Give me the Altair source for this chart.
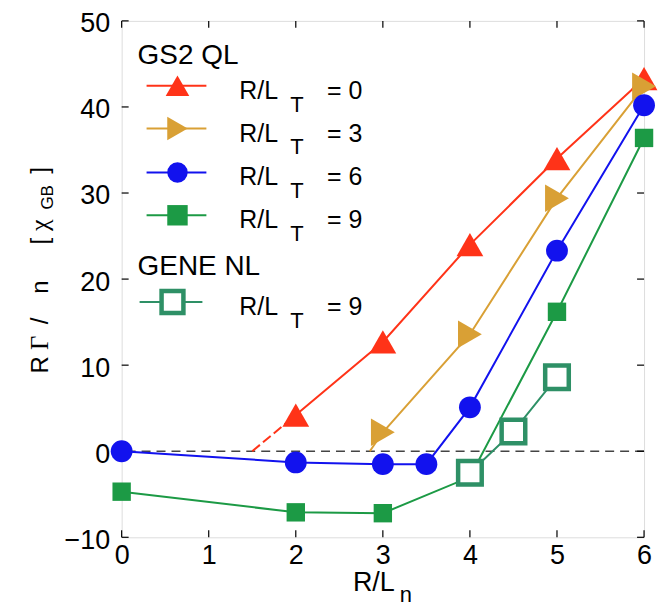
import altair as alt
import pandas as pd

# ---------------- data ----------------
x_ticks = [0, 1, 2, 3, 4, 5, 6]
y_ticks = [-10, 0, 10, 20, 30, 40, 50]

rl0_x = [2, 3, 4, 5, 6]
rl0_y = [4.2, 12.7, 24.0, 34.0, 43.3]
rl0_ext_x = [1.5, 2]
rl0_ext_y = [0.0, 4.2]

rl3_x = [3, 4, 5, 6]
rl3_y = [2.2, 13.6, 29.4, 42.4]
rl3_ext_x = [2.85, 3]
rl3_ext_y = [0.0, 2.2]

rl6_x = [0, 2, 3, 3.5, 4, 5, 6]
rl6_y = [0.0, -1.3, -1.5, -1.5, 5.1, 23.3, 40.2]

rl9_x = [0, 2, 3, 4, 5, 6]
rl9_y = [-4.7, -7.1, -7.2, -3.0, 16.2, 36.4]
rl9_marker = [True, True, True, False, True, True]

gene_x = [4, 4.5, 5]
gene_y = [-2.5, 2.3, 8.6]

legend_labels = ["= 0", "= 3", "= 6", "= 9"]
gene_label = "= 9"

# ---------------- styles ----------------
RED = "#FF3318"
GOLD = "#D9A035"
BLUE = "#1212EE"
GREEN = "#1C9A45"
TEAL = "#2E9066"
FONT = "Liberation Sans"
W, H = 524, 518

xs = alt.Scale(domain=[0, 6], nice=False, zero=False)
ys = alt.Scale(domain=[-10, 50], nice=False, zero=False)
ax_x = alt.Axis(values=x_ticks, title=None, format="d", labelFontSize=27,
                labelPadding=5, labelFlush=False, labelOverlap=False,
                ticks=False, tickSize=0, domain=False, grid=False,
                labelFont=FONT, labelColor="black")
ax_y = alt.Axis(values=y_ticks, title=None, format="d", labelFontSize=27,
                labelPadding=12, labelFlush=False, labelOverlap=False,
                labelOffset=3,
                ticks=False, tickSize=0, domain=False, grid=False,
                labelFont=FONT, labelColor="black")
X = alt.X("x:Q", scale=xs, axis=ax_x)
Y = alt.Y("y:Q", scale=ys, axis=ax_y)


def df(xv, yv):
    return pd.DataFrame({"x": xv, "y": yv})


def line(d, color, dash=None):
    kw = dict(color=color, strokeWidth=2)
    if dash is not None:
        kw["strokeDash"] = dash
    return alt.Chart(d).mark_line(**kw).encode(x=X, y=Y)


def pts(d, shape, color, size):
    return alt.Chart(d).mark_point(shape=shape, filled=True, color=color,
                                   size=size, opacity=1).encode(x=X, y=Y)


one = pd.DataFrame({"k": [0]})

layers = []
# zero dashed line
layers.append(alt.Chart(one).mark_rule(color="#444444", strokeWidth=1.5,
                                       strokeDash=[9, 6]).encode(y=alt.datum(0, scale=ys)))
# inward ticks
xt = pd.DataFrame({"x": x_ticks})
yt = pd.DataFrame({"y": y_ticks})
layers.append(alt.Chart(xt).mark_rule(color="black", strokeWidth=1.2).encode(
    x=X, y=alt.value(H), y2=alt.value(H - 7)))
layers.append(alt.Chart(xt).mark_rule(color="black", strokeWidth=1.2).encode(
    x=X, y=alt.value(0), y2=alt.value(7)))
layers.append(alt.Chart(yt).mark_rule(color="black", strokeWidth=1.2).encode(
    y=Y, x=alt.value(0), x2=alt.value(7)))
layers.append(alt.Chart(yt).mark_rule(color="black", strokeWidth=1.2).encode(
    y=Y, x=alt.value(W), x2=alt.value(W - 7)))

# lines
layers.append(line(df(rl0_ext_x, rl0_ext_y), RED, [10, 4]))
layers.append(line(df(rl0_x, rl0_y), RED))
layers.append(line(df(rl3_ext_x, rl3_ext_y), GOLD))
layers.append(line(df(rl3_x, rl3_y), GOLD))
layers.append(line(df(rl6_x, rl6_y), BLUE))
layers.append(line(df(rl9_x, rl9_y), GREEN))
layers.append(line(df(gene_x, gene_y), TEAL))

# markers
layers.append(pts(df(rl0_x, rl0_y), "triangle-up", RED, 720))
layers.append(pts(df(rl3_x, rl3_y), "triangle-right", GOLD, 760))
layers.append(pts(df(rl6_x, rl6_y), "circle", BLUE, 480))
g9 = df(rl9_x, rl9_y)
g9 = g9[pd.Series(rl9_marker)]
layers.append(pts(g9, "square", GREEN, 340))
layers.append(alt.Chart(df(gene_x, gene_y)).mark_point(
    shape="square", filled=True, fill="white", stroke=TEAL, strokeWidth=4.5,
    size=560, opacity=1, fillOpacity=1, strokeOpacity=1).encode(x=X, y=Y))


# ---------------- legend (drawn by hand) ----------------
def txt(text, x, y, size, font=FONT, align="left", angle=None, baseline="alphabetic"):
    kw = dict(text=text, align=align, baseline=baseline, fontSize=size,
              font=font, color="black")
    if angle is not None:
        kw["angle"] = angle
    return alt.Chart(one).mark_text(**kw).encode(x=alt.value(x), y=alt.value(y))


def leg_row(y, color, shape, size, x0=25, x1=85, xm=56, hollow=False, label="= 0"):
    out = [alt.Chart(one).mark_rule(color=color, strokeWidth=2).encode(
        x=alt.value(x0), x2=alt.value(x1), y=alt.value(y))]
    if hollow:
        out.append(alt.Chart(one).mark_point(
            shape=shape, filled=True, fill="white", stroke=color, strokeWidth=4.5,
            size=size, opacity=1).encode(x=alt.value(xm), y=alt.value(y)))
    else:
        out.append(alt.Chart(one).mark_point(
            shape=shape, filled=True, color=color, size=size, opacity=1).encode(
            x=alt.value(xm), y=alt.value(y)))
    out.append(txt("R/L", 118, y + 13, 25))
    out.append(txt("T", 169, y + 26, 22))
    out.append(txt(label, 206, y + 13, 25))
    return out


layers.append(txt("GS2 QL", 16, 43, 28))
rows = [(65, RED, "triangle-up", 560), (108, GOLD, "triangle-right", 560),
        (152, BLUE, "circle", 420), (195, GREEN, "square", 420)]
for (ry, c, s, sz), lab in zip(rows, legend_labels):
    layers += leg_row(ry, c, s, sz, label=lab)
layers.append(txt("GENE NL", 16, 255, 28))
layers += leg_row(282, TEAL, "square", 480, x0=18, x1=81, xm=51, hollow=True,
                  label=gene_label)

# ---------------- axis titles (with subscripts) ----------------
SERIF = "Liberation Serif"
layers.append(txt("R", -74, 345, 24, align="center", angle=270))
layers.append(txt("Γ", -74, 323, 25, font=SERIF, align="center", angle=270))
layers.append(txt("/", -74, 301, 24, align="center", angle=270))
layers.append(txt("n", -74, 267, 24, align="center", angle=270))
layers.append(txt("[", -74, 221, 24, align="center", angle=270))
layers.append(txt("χ", -74, 205, 26, font=SERIF, align="center", angle=270))
layers.append(txt("GB", -69, 177, 17, align="center", angle=270))
layers.append(txt("]", -74, 150, 24, align="center", angle=270))

layers.append(txt("R/L", 253, 572, 27, align="center"))
layers.append(txt("n", 285, 583, 22, align="center"))

chart = alt.layer(*layers).properties(
    width=W, height=H,
    autosize=alt.AutoSizeParams(type="none"),
    padding={"left": 114, "top": 12, "right": 15, "bottom": 70},
).configure_view(stroke="black", strokeWidth=1.6).configure(background="white")

chart.save("out.html", embed_options={"renderer": "svg", "actions": False})
